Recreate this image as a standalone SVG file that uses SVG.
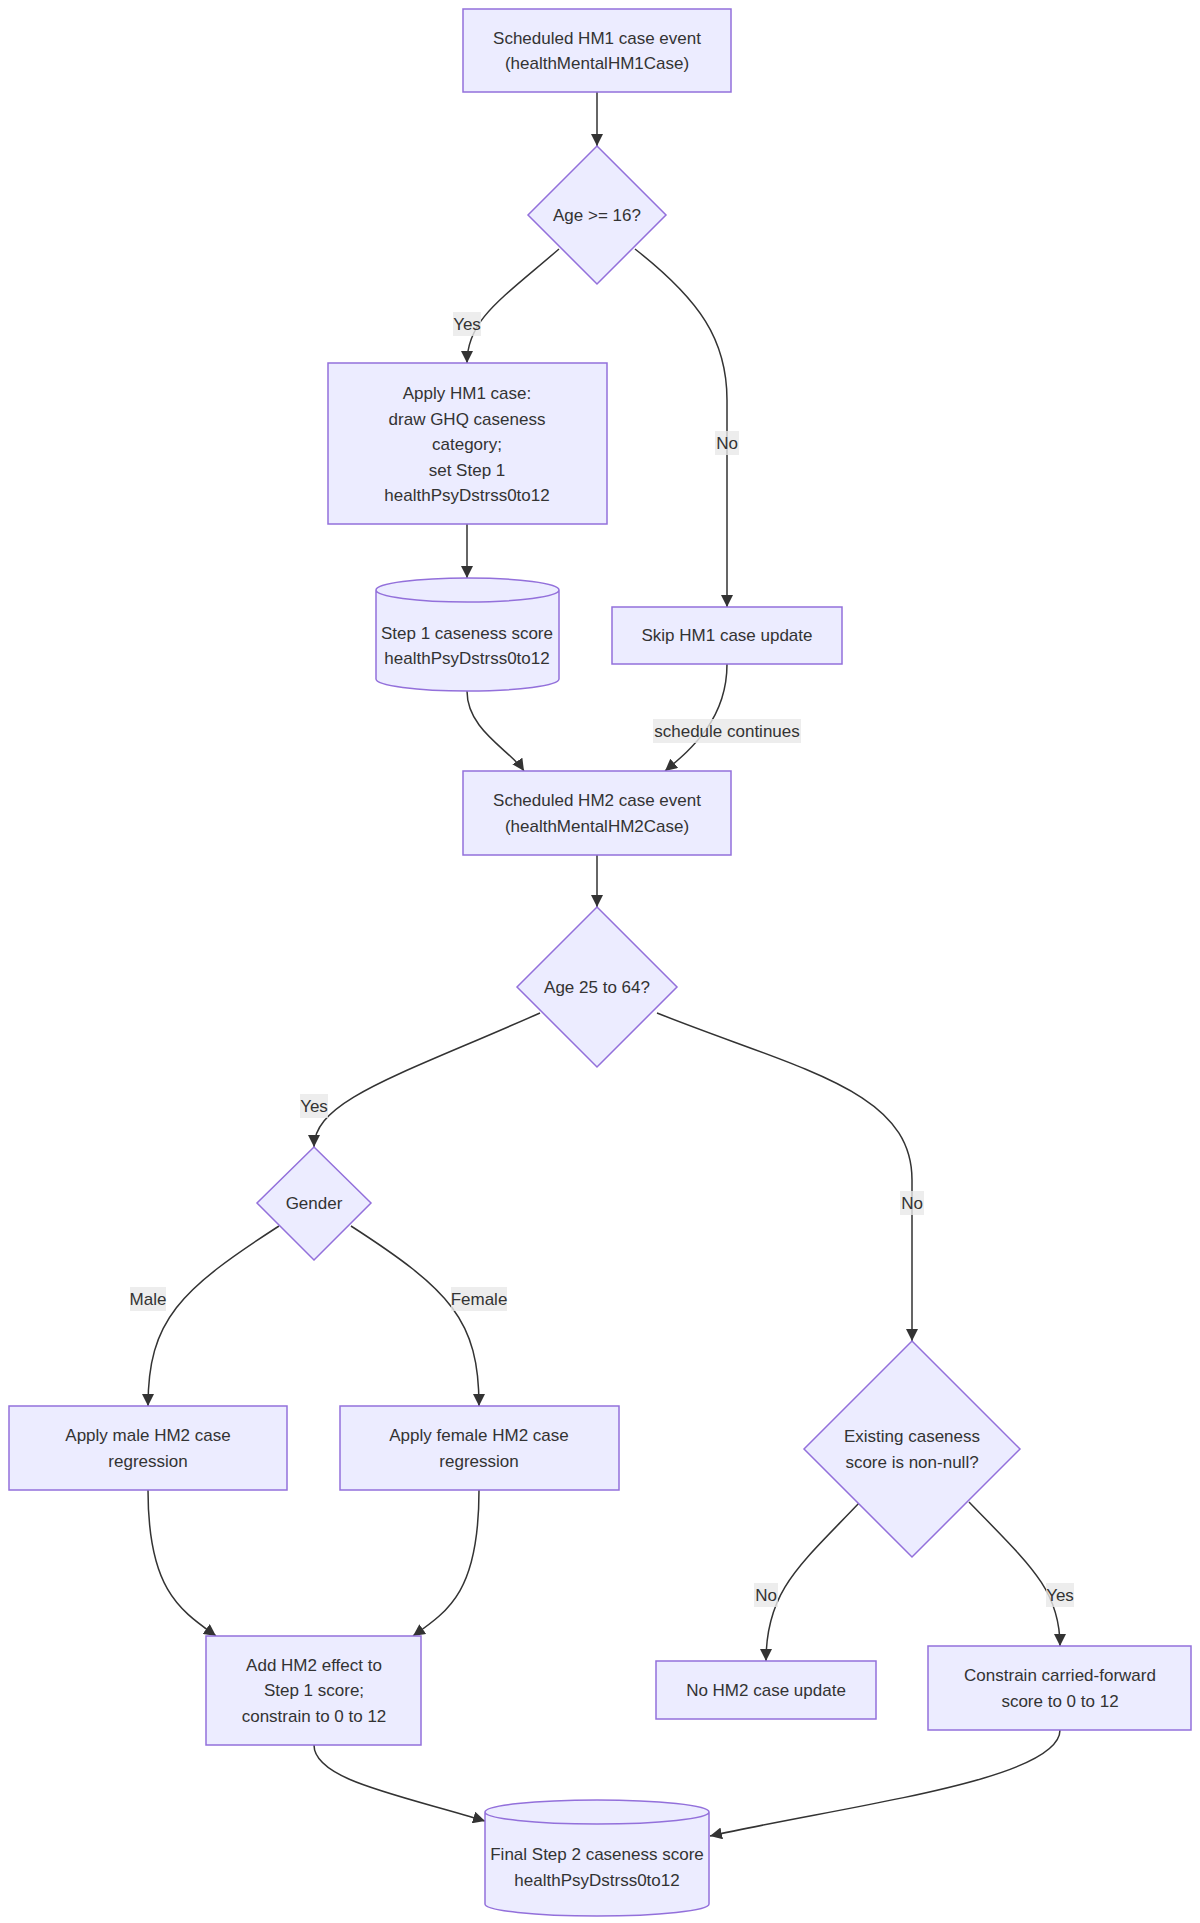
<svg xmlns="http://www.w3.org/2000/svg" width="1200" height="1923" viewBox="0 0 1200 1923">
<style>
.n{fill:#ECECFF;stroke:#9370DB;stroke-width:1.5}
text{font-family:"Liberation Sans","DejaVu Sans",sans-serif;font-size:17px;fill:#333;text-anchor:middle;dominant-baseline:central}
.e{fill:none;stroke:#333;stroke-width:1.5;marker-end:url(#a)}
.lb{fill:#e8e8e8;fill-opacity:0.8}
</style>
<defs><marker id="a" viewBox="0 0 10 10" refX="10" refY="5" markerWidth="12" markerHeight="12" markerUnits="userSpaceOnUse" orient="auto"><path d="M0,0L10,5L0,10z" fill="#333"/></marker></defs>
<rect width="1200" height="1923" fill="#fff"/>
<g id="edges">
<path class="e" d="M597,92L597,146"/>
<path class="e" d="M559,249C500,300 467,320 467,363"/>
<path class="e" d="M635,249C700,300 727,340 727,400L727,607"/>
<path class="e" d="M467,524L467,578"/>
<path class="e" d="M467,691C467,730 510,750 524,771"/>
<path class="e" d="M727,664C727,720 690,750 665,771"/>
<path class="e" d="M597,855L597,907"/>
<path class="e" d="M540,1013C400,1075 314,1100 314,1147"/>
<path class="e" d="M657,1013C800,1070 912,1090 912,1180L912,1341"/>
<path class="e" d="M279,1226C180,1290 148,1320 148,1406"/>
<path class="e" d="M351,1226C450,1290 479,1320 479,1406"/>
<path class="e" d="M148,1490C148,1590 180,1610 216,1636"/>
<path class="e" d="M479,1490C479,1590 450,1610 413,1636"/>
<path class="e" d="M860,1502C800,1565 766,1590 766,1661"/>
<path class="e" d="M969,1502C1030,1565 1060,1590 1060,1646"/>
<path class="e" d="M314,1745C314,1780 400,1795 485,1821"/>
<path class="e" d="M1060,1730C1060,1780 850,1805 710,1836"/>
<rect class="lb" x="453" y="312" width="28" height="24"/><text x="467" y="324">Yes</text>
<rect class="lb" x="715" y="431" width="24" height="24"/><text x="727" y="443">No</text>
<rect class="lb" x="653" y="719" width="148" height="24"/><text x="727" y="731">schedule continues</text>
<rect class="lb" x="300" y="1094" width="28" height="24"/><text x="314" y="1106">Yes</text>
<rect class="lb" x="900" y="1191" width="24" height="24"/><text x="912" y="1203">No</text>
<rect class="lb" x="130" y="1287" width="36" height="24"/><text x="148" y="1299">Male</text>
<rect class="lb" x="451" y="1287" width="56" height="24"/><text x="479" y="1299">Female</text>
<rect class="lb" x="754" y="1583" width="24" height="24"/><text x="766" y="1595">No</text>
<rect class="lb" x="1046" y="1583" width="28" height="24"/><text x="1060" y="1595">Yes</text>
</g>
<g id="n1"><rect class="n" x="463" y="9" width="268" height="83"/><text x="597" y="38">Scheduled HM1 case event</text><text x="597" y="63">(healthMentalHM1Case)</text></g>
<g id="d1"><polygon class="n" points="597,146 666,215 597,284 528,215"/><text x="597" y="215">Age &gt;= 16?</text></g>
<g id="n2"><rect class="n" x="328" y="363" width="279" height="161"/><text x="467" y="393">Apply HM1 case:</text><text x="467" y="419">draw GHQ caseness</text><text x="467" y="444">category;</text><text x="467" y="470">set Step 1</text><text x="467" y="495">healthPsyDstrss0to12</text></g>
<g id="c1"><path class="n" d="M376,590a91.5,12 0 0 0 183,0a91.5,12 0 0 0 -183,0l0,89a91.5,12 0 0 0 183,0l0,-89"/><text x="467" y="633">Step 1 caseness score</text><text x="467" y="658">healthPsyDstrss0to12</text></g>
<g id="n3"><rect class="n" x="612" y="607" width="230" height="57"/><text x="727" y="635">Skip HM1 case update</text></g>
<g id="n4"><rect class="n" x="463" y="771" width="268" height="84"/><text x="597" y="800">Scheduled HM2 case event</text><text x="597" y="826">(healthMentalHM2Case)</text></g>
<g id="d2"><polygon class="n" points="597,907 677,987 597,1067 517,987"/><text x="597" y="987">Age 25 to 64?</text></g>
<g id="d3"><polygon class="n" points="314,1147 371,1203 314,1260 257,1203"/><text x="314" y="1203">Gender</text></g>
<g id="d4"><polygon class="n" points="912,1341 1020,1449 912,1557 804,1449"/><text x="912" y="1436">Existing caseness</text><text x="912" y="1462">score is non-null?</text></g>
<g id="n5"><rect class="n" x="9" y="1406" width="278" height="84"/><text x="148" y="1435">Apply male HM2 case</text><text x="148" y="1461">regression</text></g>
<g id="n6"><rect class="n" x="340" y="1406" width="279" height="84"/><text x="479" y="1435">Apply female HM2 case</text><text x="479" y="1461">regression</text></g>
<g id="n7"><rect class="n" x="206" y="1636" width="215" height="109"/><text x="314" y="1665">Add HM2 effect to</text><text x="314" y="1690">Step 1 score;</text><text x="314" y="1716">constrain to 0 to 12</text></g>
<g id="n8"><rect class="n" x="656" y="1661" width="220" height="58"/><text x="766" y="1690">No HM2 case update</text></g>
<g id="n9"><rect class="n" x="928" y="1646" width="263" height="84"/><text x="1060" y="1675">Constrain carried-forward</text><text x="1060" y="1701">score to 0 to 12</text></g>
<g id="c2"><path class="n" d="M485,1812a112,12 0 0 0 224,0a112,12 0 0 0 -224,0l0,92a112,12 0 0 0 224,0l0,-92"/><text x="597" y="1854">Final Step 2 caseness score</text><text x="597" y="1880">healthPsyDstrss0to12</text></g>
</svg>
